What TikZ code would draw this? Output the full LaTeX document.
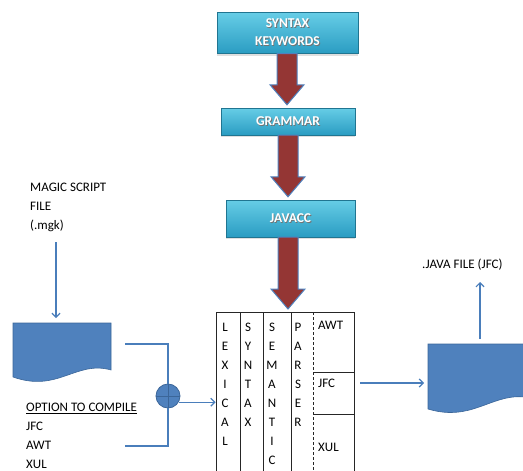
\documentclass[tikz,border=0pt]{standalone}
\usepackage{fontspec}
\setmainfont{Carlito}
\usetikzlibrary{arrows.meta,calc,shadows}

\definecolor{docblue}{HTML}{4F81BD}
\definecolor{docedge}{HTML}{3B6699}
\definecolor{lineblue}{HTML}{4A7EBB}
\definecolor{boxtop}{HTML}{66CDE6}
\definecolor{boxbot}{HTML}{2A9CC2}
\definecolor{arrowred}{HTML}{943634}

% white caption with a soft dark offset behind it
\newcommand\shadowed[1]{\leavevmode\rlap{\color{black!55}\hspace{0.8pt}\raisebox{-0.8pt}{#1}}#1}

% thick block arrow from the bottom of one node to the top of the next
\newcommand\blockarrow[3]{%
  \path[bigarrow] let \p1=(#1.south), \p2=(#2.north) in
    (#3pt-10pt,\y1) -- (#3pt+10pt,\y1) -- (#3pt+10pt,\y2+23pt)
    -- (#3pt+17pt,\y2+23pt) -- (#3pt,\y2+3pt) -- (#3pt-17pt,\y2+23pt)
    -- (#3pt-10pt,\y2+23pt) -- cycle;}

\tikzset{
  kbox/.style={draw=boxbot!75!black, line width=0.4pt, top color=boxtop,
    bottom color=boxbot, text=white, align=center, inner sep=0pt,
    font=\fontsize{13.5}{18}\selectfont\bfseries,
    drop shadow={opacity=0.25, shadow xshift=0pt, shadow yshift=-2pt}},
  bigarrow/.style={fill=arrowred, draw=docblue, line width=1pt, line join=miter},
  txt/.style={anchor=base west, inner sep=0pt, font=\fontsize{13}{15}\selectfont},
  letter/.style={anchor=base, inner sep=0pt, font=\fontsize{13}{15}\selectfont},
  conn/.style={draw=lineblue, line width=1.2pt},
  tip/.style={-{Straight Barb[length=4pt,width=8pt]}},
  docshape/.style={fill=docblue, draw=docedge, line width=0.6pt},
  grid/.style={draw=black!85, line width=0.9pt},
}

\begin{document}
\begin{tikzpicture}[x=1pt, y=-1pt]
\useasboundingbox (0,0) rectangle (523,471);
\clip (0,0) rectangle (523,471);

% pipeline boxes
\node[kbox, minimum width=141pt, minimum height=41pt] (syn) at (287.5,33)
  {\shadowed{SYNTAX}\\\shadowed{KEYWORDS}};
\node[kbox, minimum width=134pt, minimum height=27pt] (gram) at (288,121.5)
  {\shadowed{GRAMMAR}};
\node[kbox, minimum width=129pt, minimum height=37pt] (java) at (290.5,218.5)
  {\shadowed{JAVACC}};

% compiler table
\node[grid, draw, anchor=north, minimum width=138pt, minimum height=170pt,
  inner sep=0pt] (tab) at (285,312) {};

\blockarrow{syn}{gram}{287}
\blockarrow{gram}{java}{288}
\blockarrow{java}{tab}{288}

% column rules
\foreach \cx in {240,263,291}
  \draw[grid] (\cx,312) -- (\cx,480);
\draw[draw=black!85, line width=0.9pt, densely dashed] (313,312) -- (313,480);
\draw[grid] (313,372) -- (354,372);
\draw[grid] (313,414) -- (354,414);

% vertical words
\foreach \ch [count=\i from 0] in {L,E,X,I,C,A,L}
  \node[letter] (lex\i) at (225,331.7+19*\i) {\ch};
\foreach \ch [count=\i from 0] in {S,Y,N,T,A,X}
  \node[letter] (syx\i) at (248,331.7+19*\i) {\ch};
\foreach \ch [count=\i from 0] in {S,E,M,A,N,T,I,C}
  \node[letter] (sem\i) at (272,331.7+19*\i) {\ch};
\foreach \ch [count=\i from 0] in {P,A,R,S,E,R}
  \node[letter] (par\i) at (298,331.7+19*\i) {\ch};

\node[txt] (awt) at (318,329.5) {AWT};
\node[txt] (jfc) at (318,387.5) {JFC};
\node[txt] (xul) at (318,451) {XUL};

% source document
\path[docshape] (13,323) -- (111,323) -- (111,370)
  .. controls (76,360) and (58,393) .. (13,377) -- cycle;
\coordinate (docin) at (56,318);
\coordinate (docout) at (125,344);

\node[txt] (mg1) at (30,191) {MAGIC SCRIPT};
\node[txt] (mg2) at (30,210.3) {FILE};
\node[txt] (mg3) at (30,229.6) {(.mgk)};
\coordinate (mgout) at (56,242);
\draw[conn, tip] (mgout) -- (docin);

\node[txt] (opt) at (26,411.5) {\underline{OPTION TO COMPILE}};
\node[txt] (o1) at (26,430.5) {JFC};
\node[txt] (o2) at (26,449.5) {AWT};
\node[txt] (o3) at (26,468.3) {XUL};
\coordinate (optout) at (125,446);

% merge point
\node[circle, fill=docblue, draw=docedge, line width=0.8pt, minimum size=24pt,
  inner sep=0pt] (circ) at (168,396) {};
\draw[docedge, line width=0.8pt] (circ.west) -- (circ.east) (circ.north) -- (circ.south);

\draw[conn] (docout) -| (circ.north);
\draw[conn] (optout) -| (circ.south);
\draw[conn, tip] (circ.-30) -- (circ.-30 -| tab.west);

% generated document
\path[docshape] (428,344) -- (530,344) -- (530,398)
  .. controls (494,390) and (474,423) .. (428,409) -- cycle;
\coordinate (outin) at (424,383);
\coordinate (tabout) at (360,383);
\coordinate (outtop) at (480,339);
\coordinate (jfile) at (480,282);
\draw[conn, tip] (tabout) -- (outin);
\draw[conn, tip] (outtop) -- (jfile);
\node[txt] (jf) at (422,268.2) {.JAVA FILE (JFC)};
\end{tikzpicture}
\end{document}
